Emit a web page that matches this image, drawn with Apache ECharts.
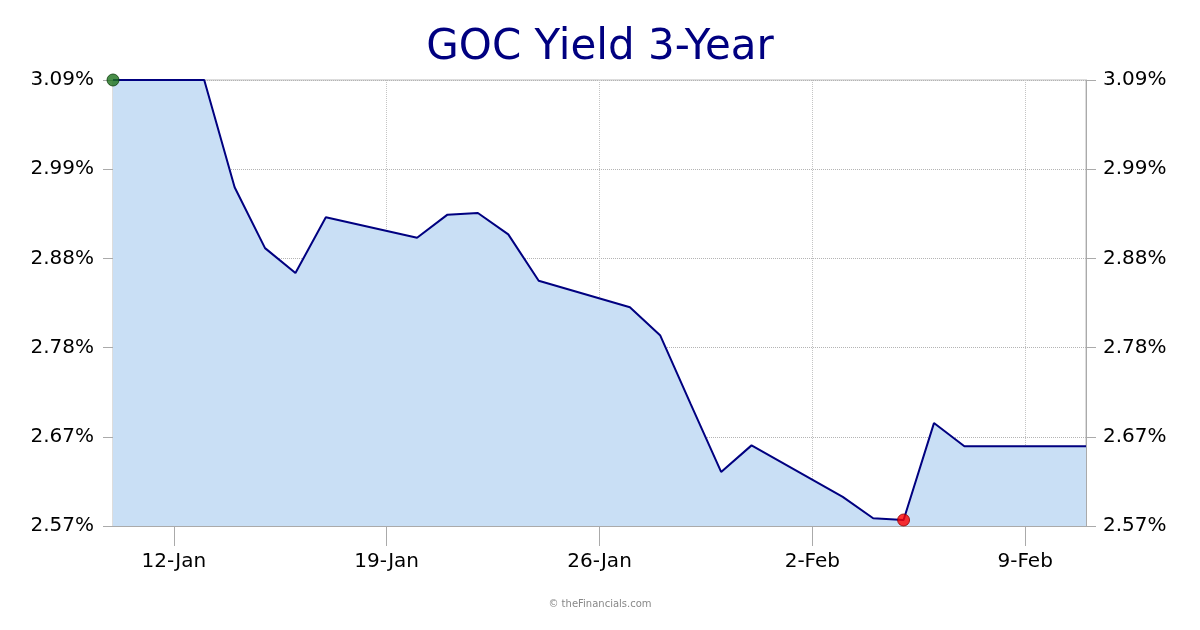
<!DOCTYPE html>
<html>
<head>
<meta charset="utf-8">
<script src="https://cdn.jsdelivr.net/npm/echarts@6/dist/echarts.min.js"></script>
<style>html,body{margin:0;padding:0;background:#fff;}#c{width:1200px;height:630px;}</style>
</head>
<body>
<div id="c"></div>
<script>
const dates = ['2025-01-10','2025-01-13','2025-01-14','2025-01-15','2025-01-16','2025-01-17',
  '2025-01-20','2025-01-21','2025-01-22','2025-01-23','2025-01-24',
  '2025-01-27','2025-01-28','2025-01-29','2025-01-30','2025-01-31',
  '2025-02-03','2025-02-04','2025-02-05','2025-02-06','2025-02-07','2025-02-10','2025-02-11'];
const yields = [3.09,3.09,2.965,2.894,2.865,2.930,
  2.906,2.933,2.935,2.910,2.856,
  2.825,2.792,2.712,2.633,2.664,
  2.604,2.579,2.577,2.690,2.663,2.663,2.663];
const tickDates = ['2025-01-12','2025-01-19','2025-01-26','2025-02-02','2025-02-09'];
const yMin = 2.57, yMax = 3.09, yStep = 0.104;
const axisStart = '2025-01-10', axisEnd = '2025-02-11';
const months = ['Jan','Feb','Mar','Apr','May','Jun','Jul','Aug','Sep','Oct','Nov','Dec'];

const ts = s => Date.parse(s + 'T00:00:00Z');
const seriesData = dates.map((d, i) => [ts(d), yields[i]]);
const tickVals = tickDates.map(ts);
let minIdx = 0;
yields.forEach((v, i) => { if (v < yields[minIdx]) minIdx = i; });

const font = 'DejaVu Sans, Verdana, sans-serif';
const yAxisCommon = {
  type: 'value', min: yMin, max: yMax, interval: yStep,
  axisLine: { show: true, lineStyle: { color: '#aaa' } },
  axisTick: { show: true, length: 10, lineStyle: { color: '#aaa' } },
  axisLabel: { color: '#000', fontSize: 20, fontFamily: font,
    formatter: v => v.toFixed(2) + '%' },
};

const chart = echarts.init(document.getElementById('c'));
chart.setOption({
  animation: false,
  backgroundColor: '#fff',
  title: { text: 'GOC Yield 3-Year', left: 'center', top: 22,
    textStyle: { color: '#000080', fontSize: 42, fontWeight: 'normal', fontFamily: font } },
  graphic: [{ type: 'text', left: 'center', top: 599,
    style: { text: '© theFinancials.com', fontSize: 10, fill: '#888', fontFamily: font } }],
  grid: { left: 113, right: 114, top: 80, bottom: 104, show: true, borderColor: '#bbb', borderWidth: 1 },
  xAxis: {
    type: 'value', min: ts(axisStart), max: ts(axisEnd),
    axisLine: { show: true, lineStyle: { color: '#aaa' } },
    axisTick: { show: true, length: 20, customValues: tickVals, lineStyle: { color: '#aaa' } },
    axisLabel: { customValues: tickVals, color: '#000', fontSize: 20, fontFamily: font, margin: 26,
      formatter: v => { const d = new Date(v); return d.getUTCDate() + '-' + months[d.getUTCMonth()]; } },
    splitLine: { show: true, lineStyle: { color: '#c4c4c4', type: [1, 1] } },
  },
  yAxis: [
    Object.assign({}, yAxisCommon, { position: 'left',
      axisLabel: Object.assign({}, yAxisCommon.axisLabel, { margin: 19 }),
      splitLine: { show: true, lineStyle: { color: '#b4b4b4', type: [1, 1] } } }),
    Object.assign({}, yAxisCommon, { position: 'right',
      axisLabel: Object.assign({}, yAxisCommon.axisLabel, { margin: 17 }),
      splitLine: { show: false } }),
  ],
  series: [
    { type: 'line', data: seriesData, symbol: 'none',
      lineStyle: { color: '#000080', width: 2 },
      areaStyle: { color: '#c9dff5', opacity: 1, origin: 'start' } },
    { type: 'scatter', symbolSize: 12, z: 5,
      data: [
        { value: seriesData[0], itemStyle: { color: '#1a701a', borderColor: '#0b3d0b', borderWidth: 1 } },
        { value: seriesData[minIdx], itemStyle: { color: '#ff0000', borderColor: '#8b0000', borderWidth: 1 } },
      ] },
  ],
});
</script>
</body>
</html>
